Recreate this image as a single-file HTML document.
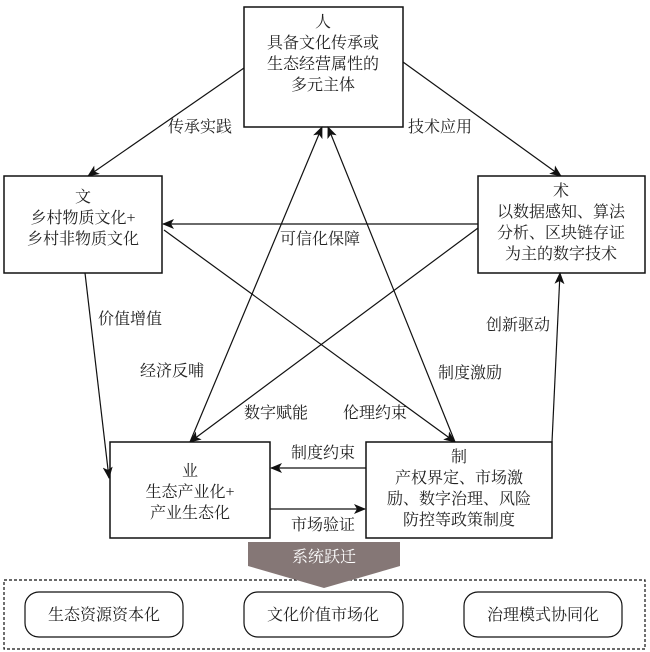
<!DOCTYPE html>
<html><head><meta charset="utf-8"><style>
html,body{margin:0;padding:0;background:#fff}
svg{display:block}
text{font-family:"Liberation Serif","Noto Serif CJK SC",serif;font-size:16px;fill:#222}
</style></head><body>
<svg width="650" height="652" viewBox="0 0 650 652" xmlns="http://www.w3.org/2000/svg">
<defs><marker id="a" markerWidth="12" markerHeight="10" refX="11" refY="5" orient="auto" markerUnits="userSpaceOnUse"><path d="M0,0 L12,5 L0,10 L3,5 z" fill="#111"/></marker></defs>
<g fill="none" stroke="#111" stroke-width="1.2">
<rect x="244" y="7" width="159" height="120" stroke-width="1.5"/>
<rect x="4" y="176" width="158" height="97" stroke-width="1.5"/>
<rect x="478" y="176" width="167" height="97" stroke-width="1.5"/>
<rect x="110" y="442" width="160" height="96" stroke-width="1.5"/>
<rect x="366" y="442" width="186" height="96" stroke-width="1.5"/>
<g marker-end="url(#a)">
<line x1="244" y1="68" x2="88" y2="176"/>
<line x1="403" y1="62" x2="561" y2="176"/>
<line x1="478" y1="224" x2="163" y2="224"/>
<line x1="478" y1="228" x2="190" y2="442"/>
<line x1="164" y1="230" x2="455" y2="442"/>
<line x1="190" y1="442" x2="322" y2="127"/>
<line x1="455" y1="442" x2="328" y2="127"/>
<line x1="85" y1="273" x2="109" y2="478"/>
<line x1="552" y1="442" x2="560" y2="273"/>
<line x1="366" y1="468" x2="271" y2="468"/>
<line x1="270" y1="509" x2="365" y2="509"/>
</g>
<rect x="4" y="580" width="641" height="69" stroke-dasharray="3,2"/>
<rect x="25" y="592" width="158" height="45" rx="14"/>
<rect x="244" y="592" width="159" height="45" rx="14"/>
<rect x="464" y="592" width="158" height="45" rx="14"/>
</g>
<path d="M248,542 L400,542 L400,566 L324,588 L248,566 Z" fill="#857776"/>
<text x="324" y="562" text-anchor="middle" style="fill:#fff">系统跃迁</text>
<g text-anchor="middle">
<text x="323" y="27">人</text><text x="323" y="48">具备文化传承或</text><text x="323" y="69">生态经营属性的</text><text x="323" y="90">多元主体</text>
<text x="83" y="202">文</text><text x="83" y="223">乡村物质文化+</text><text x="83" y="244">乡村非物质文化</text>
<text x="561" y="196">术</text><text x="561" y="217">以数据感知、算法</text><text x="561" y="238">分析、区块链存证</text><text x="561" y="259">为主的数字技术</text>
<text x="190" y="476">业</text><text x="190" y="497">生态产业化+</text><text x="190" y="518">产业生态化</text>
<text x="459" y="462">制</text><text x="459" y="483">产权界定、市场激</text><text x="459" y="504">励、数字治理、风险</text><text x="459" y="525">防控等政策制度</text>
<text x="104" y="620">生态资源资本化</text><text x="323" y="620">文化价值市场化</text><text x="543" y="620">治理模式协同化</text>
<text x="200" y="132">传承实践</text><text x="440" y="132">技术应用</text><text x="320" y="244">可信化保障</text>
<text x="130" y="324">价值增值</text><text x="518" y="330">创新驱动</text><text x="172" y="376">经济反哺</text>
<text x="470" y="378">制度激励</text><text x="276" y="418">数字赋能</text><text x="375" y="418">伦理约束</text>
<text x="323" y="458">制度约束</text><text x="323" y="530">市场验证</text>
</g>
</svg>
</body></html>
